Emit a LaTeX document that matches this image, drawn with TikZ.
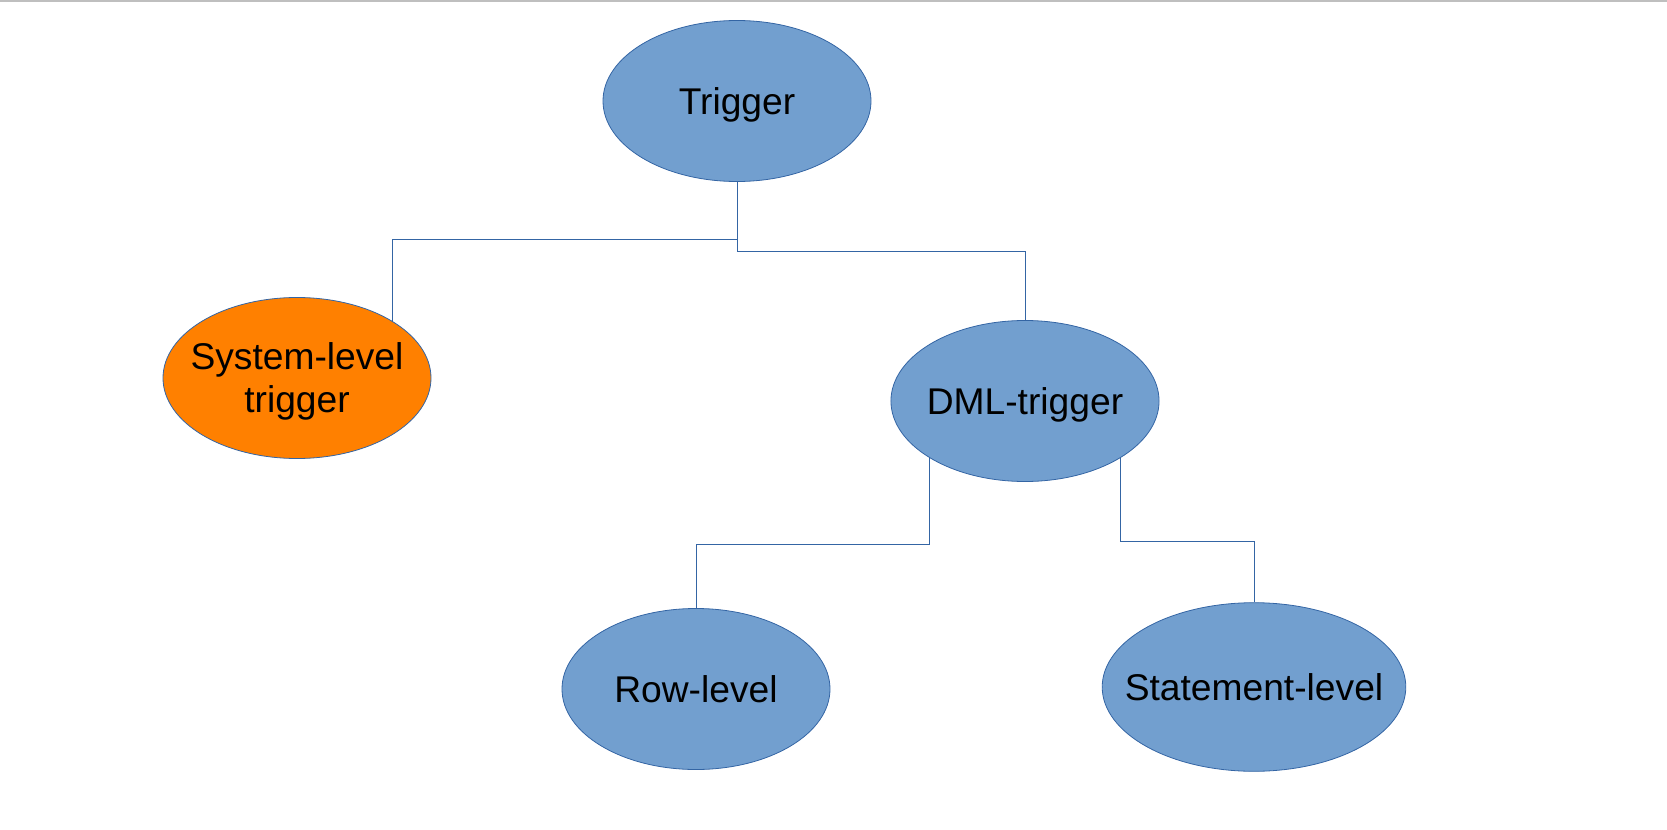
\documentclass[tikz,border=0pt]{standalone}
\usepackage{fontspec}
\setmainfont{Liberation Sans}
\usetikzlibrary{shapes.geometric}
\definecolor{nodeblue}{RGB}{114,159,207}
\definecolor{nodeline}{RGB}{52,101,164}
\definecolor{nodeorange}{RGB}{255,128,0}
\begin{document}
\begin{tikzpicture}[x=0.5pt,y=-0.5pt,
  kind/.style={draw=nodeline, fill=nodeblue, ellipse, inner sep=0pt,
    minimum width=134pt, minimum height=80.5pt, align=center,
    text depth=0pt, font=\fontsize{18.6}{21.5}\selectfont},
  link/.style={draw=nodeline, line width=0.5pt}]
\useasboundingbox (0,0) rectangle (1667,830);
\draw[black!25, line width=1pt] (0,0.5) -- (1667,0.5);
\node[kind] (trig) at (737,101) {Trigger};
\node[kind,fill=nodeorange,inner xsep=-6pt] (sys) at (297,378) {System-level\\trigger};
\node[kind,inner xsep=-1.7pt] (dml) at (1025,401) {DML-trigger};
\node[kind] (row) at (696,689) {Row-level};
\node[kind,inner xsep=-11pt,minimum width=151.8pt,minimum height=84.3pt] (stmt) at (1254,687) {Statement-level};
\path[link] (trig.south) -- ++(0,57.5) -| (sys.31);
\path[link] (trig.south) -- ++(0,69.5) -| (dml.north);
\path[link] (dml.211) -- ++(0,86) -| (row.north);
\path[link] (dml.329) -- ++(0,83) -| (stmt.north);
\end{tikzpicture}
\end{document}
